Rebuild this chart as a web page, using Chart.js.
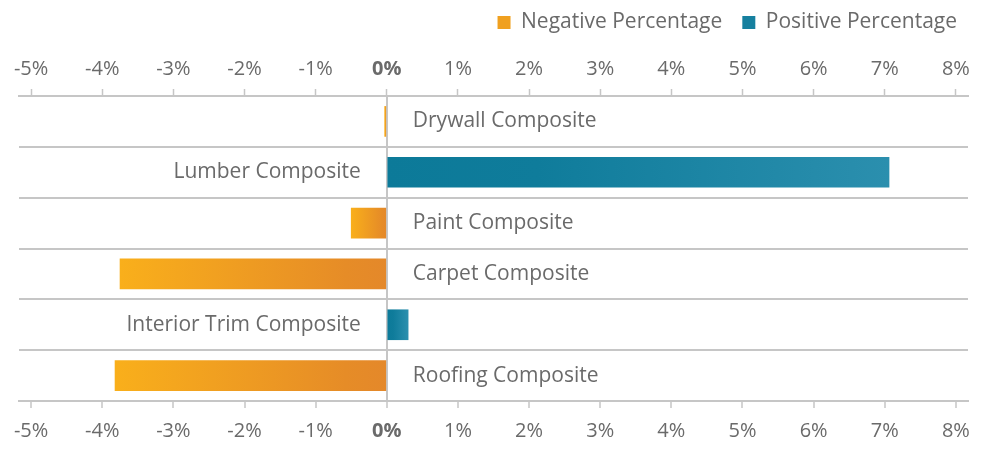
<!DOCTYPE html>
<html>
<head>
<meta charset="utf-8">
<script src="https://cdn.jsdelivr.net/npm/chart.js@4.4.1/dist/chart.umd.min.js"></script>
<style>
  html, body { margin: 0; padding: 0; background: #ffffff; }
  #wrap { width: 987px; height: 449px; }
</style>
</head>
<body>
<div id="wrap"><canvas id="c" width="987" height="449"></canvas></div>
<script>
const categories = ['Drywall Composite', 'Lumber Composite', 'Paint Composite', 'Carpet Composite', 'Interior Trim Composite', 'Roofing Composite'];
const negativeValues = [-0.03, null, -0.5, -3.75, null, -3.82];
const positiveValues = [null, 7.06, null, null, 0.3, null];
const tickValues = [-5, -4, -3, -2, -1, 0, 1, 2, 3, 4, 5, 6, 7, 8];
const axisMin = -5.17;
const axisMax = 8.17;

const TEXT = '#6a6a6a';
const GRID = '#c6c6c6';
const FONT = "'Open Sans', 'DejaVu Sans', sans-serif";

function gradientFill(stops, fallback) {
  return function (ctx) {
    const chart = ctx.chart;
    if (!chart.chartArea || ctx.raw === null || ctx.raw === undefined) return fallback;
    const xs = chart.scales.x;
    const x0 = xs.getPixelForValue(0);
    const x1 = xs.getPixelForValue(ctx.raw);
    if (Math.abs(x1 - x0) < 1) return fallback;
    const g = chart.ctx.createLinearGradient(x0, 0, x1, 0);
    stops.forEach(s => g.addColorStop(s[0], s[1]));
    return g;
  };
}

const categoryLabels = {
  id: 'categoryLabels',
  afterLayout(chart) {
    // nudge legend toward the right edge like the original
    if (chart.legend) { chart.legend.left += 9; chart.legend.right += 9; }
  },
  afterDatasetsDraw(chart) {
    const c = chart.ctx;
    const xs = chart.scales.x, ys = chart.scales.y;
    const x0 = xs.getPixelForValue(0);
    c.save();
    c.font = "21px " + FONT;
    c.fillStyle = TEXT;
    c.textBaseline = 'middle';
    categories.forEach((name, i) => {
      const y = ys.getPixelForValue(i);
      if (negativeValues[i] !== null) {
        c.textAlign = 'left';
        c.fillText(name, x0 + 26, y);
      } else {
        c.textAlign = 'right';
        c.fillText(name, x0 - 26, y);
      }
    });
    c.restore();
  }
};

function integerTicks(scale) {
  scale.ticks = tickValues.map(v => ({ value: v }));
}

const tickFont = ctx => (ctx.tick && ctx.tick.value === 0)
  ? { family: FONT, size: 20, weight: 'bold' }
  : { family: FONT, size: 20 };

new Chart(document.getElementById('c'), {
  type: 'bar',
  data: {
    labels: categories,
    datasets: [
      {
        label: 'Negative Percentage',
        data: negativeValues,
        backgroundColor: gradientFill([[0, '#E4882A'], [0.15, '#E68C27'], [1, '#F9AF1B']], '#EE9B20'),
        barThickness: 30
      },
      {
        label: 'Positive Percentage',
        data: positiveValues,
        backgroundColor: gradientFill([[0, '#0C7A99'], [0.3, '#0F7C9B'], [1, '#2B8FAE']], '#1A82A2'),
        barThickness: 30
      }
    ]
  },
  plugins: [categoryLabels],
  options: {
    indexAxis: 'y',
    responsive: false,
    animation: false,
    layout: { padding: { left: 19, right: 19, top: -8, bottom: 0 } },
    plugins: {
      tooltip: { enabled: false },
      legend: {
        position: 'top',
        align: 'end',
        labels: {
          boxWidth: 13,
          boxHeight: 13,
          padding: 20,
          color: TEXT,
          font: { family: FONT, size: 21 },
          generateLabels(chart) {
            return [
              { text: 'Negative Percentage', fillStyle: '#F0A01F', strokeStyle: '#F0A01F', lineWidth: 0, datasetIndex: 0, fontColor: TEXT },
              { text: 'Positive Percentage', fillStyle: '#16809F', strokeStyle: '#16809F', lineWidth: 0, datasetIndex: 1, fontColor: TEXT }
            ];
          }
        }
      }
    },
    scales: {
      x: {
        type: 'linear',
        position: 'bottom',
        stacked: true,
        min: axisMin,
        max: axisMax,
        afterBuildTicks: integerTicks,
        afterFit(s) { s.height = 48; },
        border: { display: true, color: GRID, width: 2 },
        grid: {
          drawOnChartArea: true,
          color: ctx => (ctx.tick && ctx.tick.value === 0) ? GRID : 'rgba(0,0,0,0)',
          lineWidth: 2,
          tickColor: GRID,
          tickLength: 7,
          tickWidth: 1.5
        },
        ticks: {
          color: TEXT,
          font: tickFont,
          padding: 11,
          maxRotation: 0,
          callback: v => v + '%'
        }
      },
      x2: {
        type: 'linear',
        position: 'top',
        min: axisMin,
        max: axisMax,
        afterBuildTicks: integerTicks,
        afterFit(s) { s.height += 6; },
        border: { display: true, color: GRID, width: 2 },
        grid: {
          drawOnChartArea: false,
          color: GRID,
          tickColor: GRID,
          tickLength: 7,
          tickWidth: 1.5
        },
        ticks: {
          color: TEXT,
          font: tickFont,
          padding: 8,
          maxRotation: 0,
          callback: v => v + '%'
        }
      },
      y: {
        stacked: true,
        border: { display: false },
        grid: {
          offset: true,
          color: GRID,
          lineWidth: 2,
          drawTicks: false
        },
        ticks: { display: false }
      }
    }
  }
});
</script>
</body>
</html>
